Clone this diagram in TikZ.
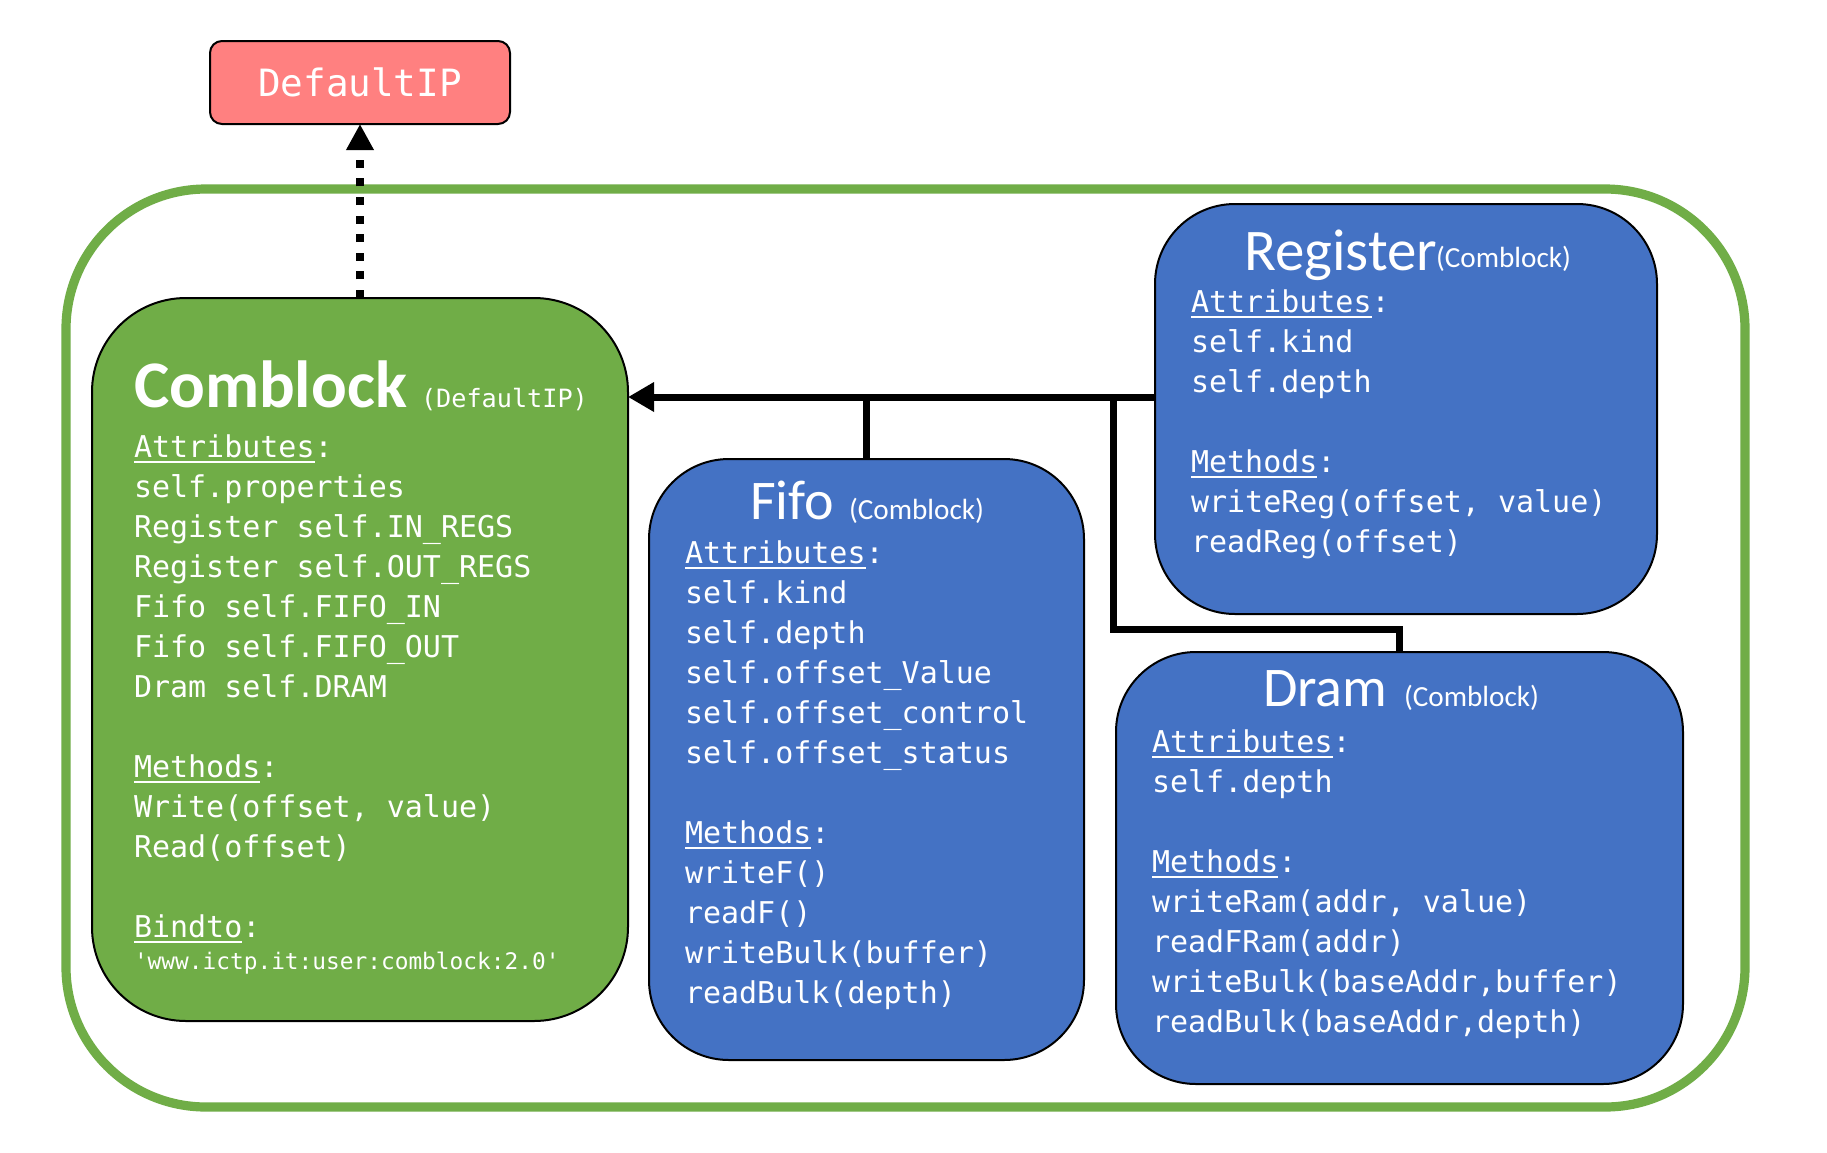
\documentclass[tikz,border=0pt]{standalone}
\usepackage{fontspec}
\setmonofont{DejaVu Sans Mono}
\newfontfamily\calib{Carlito}
\usetikzlibrary{arrows.meta}
\definecolor{cgreen}{HTML}{70AD47}
\definecolor{cblue}{HTML}{4472C4}
\definecolor{cpink}{HTML}{FF8080}
\newcommand\uln[1]{\setbox0\hbox{#1}\rlap{\rule[-3pt]{\wd0}{1pt}}\box0}
\newcommand\lineitem[1]{\hbox{#1}}
\newcommand\bodytext[1]{\vtop{\ttfamily\fontsize{15}{20}\selectfont #1}}
\begin{document}
\begin{tikzpicture}[x=0.5pt,y=-0.5pt,
  every node/.style={inner sep=0pt, outer sep=0pt},
  grp/.style={draw=cgreen, line width=4.6pt, rounded corners=70pt, minimum width=839.5pt, minimum height=459pt},
  umlbox/.style={draw=black, line width=1pt, text=white},
  bluebox/.style={umlbox, fill=cblue, rounded corners=40pt},
  body/.style={anchor=base west, text=white},
  bigtitle/.style={anchor=base west, text=white, font=\calib\fontsize{28}{30}\selectfont},
  subtitle/.style={anchor=base west, text=white, font=\calib\fontsize{14.6}{16}\selectfont},
  conn/.style={draw=black, line width=3.5pt},
  inherit/.style={draw=black, line width=4pt, dash pattern=on 4pt off 5.3pt, -{Triangle[length=13pt,width=13pt]}}
]
\useasboundingbox (0,0) rectangle (1827,1152);
\fill[white] (0,0) rectangle (1827,1152);

\node[grp] (group) at (905.5,648) {};

\node[umlbox, fill=cpink, rounded corners=6pt, minimum width=150pt, minimum height=41.5pt,
      font=\ttfamily\fontsize{18.8}{22}\selectfont] (DefaultIP) at (360,82.5) {DefaultIP};
\node[umlbox, fill=cgreen, rounded corners=47pt, minimum width=268pt, minimum height=361.5pt] (Comblock) at (360,659.5) {};
\node[bluebox, minimum width=217.5pt, minimum height=300.5pt] (Fifo) at (866.5,759.5) {};
\node[bluebox, minimum width=251pt, minimum height=205pt] (Register) at (1406,409) {};
\node[bluebox, minimum width=283.5pt, minimum height=216pt] (Dram) at (1399.5,868) {};

% connectors
\coordinate (busY) at (0,397);
\coordinate (dj) at (1113,629);
\draw[conn, -{Triangle[length=13pt,width=14pt]}] (Register.west |- busY) -- (Comblock.east |- busY);
\draw[conn] (Fifo.north) -- (Fifo.north |- busY);
\draw[conn] (Dram.north) |- (dj) -- (dj |- busY);
\draw[inherit] (Comblock.north) -- (DefaultIP.south);

% Comblock text
\node[anchor=base west, text=white, font=\calib\bfseries\fontsize{33.3}{36}\selectfont] (cbtitle) at (134,407) {Comblock};
\node[anchor=base west, text=white, font=\ttfamily\fontsize{12.6}{14}\selectfont] (cbsub) at (421,407) {(DefaultIP)};
\node[body] (cbbody) at (134,457) {\bodytext{%
\lineitem{\uln{Attributes}:}
\lineitem{self.properties}
\lineitem{Register self.IN\_REGS}
\lineitem{Register self.OUT\_REGS}
\lineitem{Fifo self.FIFO\_IN}
\lineitem{Fifo self.FIFO\_OUT}
\lineitem{Dram self.DRAM}
\lineitem{}
\lineitem{\uln{Methods}:}
\lineitem{Write(offset, value)}
\lineitem{Read(offset)}
\lineitem{}
\lineitem{\uln{Bindto}:}
}};
\node[body, font=\ttfamily\fontsize{11.4}{13}\selectfont] (cburl) at (134,969) {'www.ictp.it:user:comblock:2.0'};

% Fifo text
\node[bigtitle] (fitile) at (750,519) {Fifo};
\node[subtitle] (fisub) at (849,519) {(Comblock)};
\node[body] (fibody) at (685,563) {\bodytext{%
\lineitem{\uln{Attributes}:}
\lineitem{self.kind}
\lineitem{self.depth}
\lineitem{self.offset\_Value}
\lineitem{self.offset\_control}
\lineitem{self.offset\_status}
\lineitem{}
\lineitem{\uln{Methods}:}
\lineitem{writeF()}
\lineitem{readF()}
\lineitem{writeBulk(buffer)}
\lineitem{readBulk(depth)}
}};

% Register text
\node[bigtitle, font=\calib\fontsize{29.5}{31}\selectfont] (retitle) at (1244,270) {Register};
\node[subtitle] (resub) at (1436,267) {(Comblock)};
\node[body] (rebody) at (1191,312) {\bodytext{%
\lineitem{\uln{Attributes}:}
\lineitem{self.kind}
\lineitem{self.depth}
\lineitem{}
\lineitem{\uln{Methods}:}
\lineitem{writeReg(offset, value)}
\lineitem{readReg(offset)}
}};

% Dram text
\node[bigtitle] (drtitle) at (1263,706) {Dram};
\node[subtitle] (drsub) at (1404,706) {(Comblock)};
\node[body] (drbody) at (1152,752) {\bodytext{%
\lineitem{\uln{Attributes}:}
\lineitem{self.depth}
\lineitem{}
\lineitem{\uln{Methods}:}
\lineitem{writeRam(addr, value)}
\lineitem{readFRam(addr)}
\lineitem{writeBulk(baseAddr,buffer)}
\lineitem{readBulk(baseAddr,depth)}
}};
\end{tikzpicture}
\end{document}
